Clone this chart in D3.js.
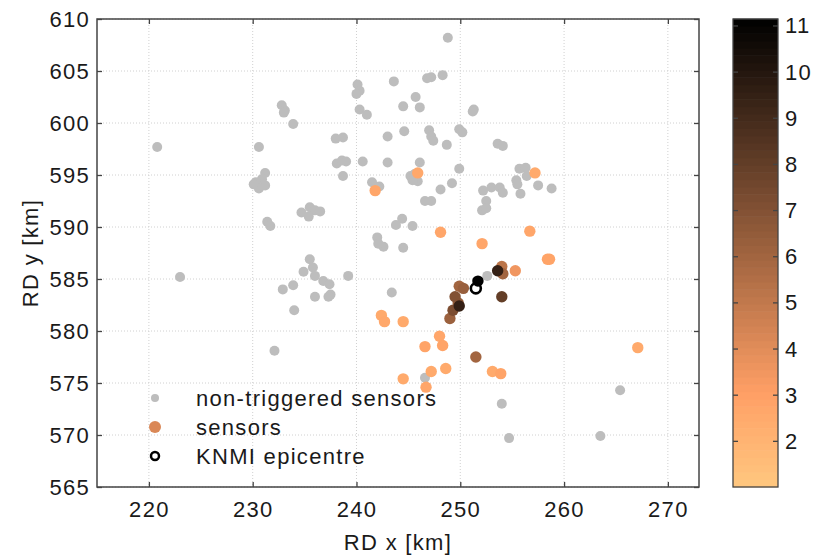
<!DOCTYPE html>
<html>
<head>
<meta charset="utf-8">
<script src="https://cdn.jsdelivr.net/npm/d3@7"></script>
<style>
  body { margin: 0; background: #fff; }
  text { font-family: "Liberation Sans", Arial, sans-serif; fill: #1a1a1a; }
</style>
</head>
<body>
<svg width="817" height="559" id="mainsvg"></svg>
<script>
// grey dots: sensors that did not trigger [RD x, RD y] in km
const greyX = [248.8,243.6,246.8,247.2,248.3,240.1,240.3,240.0,240.3,241.0,244.5,245.7,246.1,251.3,251.2,
  243.0,244.6,247.0,247.2,247.4,248.7,249.9,250.2,253.6,254.1,238.0,238.7,238.1,238.6,239.0,
  238.7,240.6,243.0,246.1,249.9,245.2,245.6,245.9,245.4,241.5,242.2,248.1,249.2,246.6,247.2,
  252.2,253.0,252.5,252.1,252.5,255.7,256.3,256.4,255.4,255.5,253.8,254.1,255.8,257.5,258.8,
  243.8,244.4,245.4,242.0,242.6,242.1,244.5,234.7,235.5,236.0,236.5,235.4,220.8,232.8,233.1,
  233.0,233.9,230.6,231.2,230.9,230.3,231.2,230.6,230.1,231.4,231.7,223.0,232.9,233.9,234.0,
  232.1,235.5,235.8,234.9,236.0,236.8,237.4,237.5,237.3,236.0,239.2,243.4,246.6,252.6,254.0,
  254.7,263.5,265.4];
const greyY = [608.2,604.0,604.3,604.4,604.6,603.7,603.1,602.8,601.3,600.8,601.6,602.5,601.5,601.3,601.1,
  598.7,599.2,599.3,598.7,598.3,597.9,599.4,599.1,598.0,597.8,598.5,598.6,596.1,596.4,596.3,
  594.9,596.3,596.2,596.2,595.6,594.9,595.1,594.4,594.5,594.3,593.9,593.6,594.2,592.5,592.5,
  593.5,593.8,592.5,591.6,591.8,595.6,595.7,594.9,594.5,594.1,593.8,593.3,593.2,594.0,593.7,
  590.2,590.8,590.1,589.0,588.1,588.4,588.0,591.4,591.9,591.6,591.5,591.0,597.7,601.7,601.2,
  601.0,599.9,597.7,595.2,594.6,594.3,594.0,593.7,594.1,590.5,590.1,585.2,584.0,584.4,582.0,
  578.1,586.9,586.1,585.7,585.3,584.8,584.5,583.5,583.3,583.3,585.3,583.7,575.5,585.3,573.0,
  569.7,569.9,574.3];

// triggered sensors, coloured by value
const sensX = [245.9,241.8,248.1,252.1,256.7,257.2,258.4,258.6,255.3,242.4,242.7,244.5,246.6,248.0,248.3,
  247.2,248.6,244.5,246.7,253.1,253.9,267.1,251.5,254.0,254.0,254.1,253.6,249.9,250.3,249.5,
  249.8,249.3,249.0,249.9,251.7];
const sensY = [595.2,593.5,589.5,588.4,589.6,595.2,586.9,586.9,585.8,581.5,580.9,580.9,578.5,579.5,578.6,
  576.1,576.4,575.4,574.6,576.1,575.9,578.4,577.5,583.3,586.2,585.5,585.8,584.3,584.1,583.3,
  582.7,582.0,581.2,582.4,584.8];
const sensVal = [2.6,2.7,2.7,2.7,2.7,2.5,2.8,2.8,3.5,2.5,2.6,2.5,2.8,2.7,2.8,
  2.5,2.5,2.5,2.7,2.5,2.8,2.5,6.0,8.0,5.2,6.0,9.5,6.0,6.3,7.0,
  6.5,7.2,6.2,9.5,11.1];

const epiX = [251.5];
const epiY = [584.1];

const xTicks = [220,230,240,250,260,270];
const yTicks = [565,570,575,580,585,590,595,600,605,610];
const cTicks = [2,3,4,5,6,7,8,9,10,11];
const cRange = [1, 11.14];

const svg = d3.select('#mainsvg');
const margin = {top: 19, left: 97};
const innerWidth = 602, innerHeight = 468;
const axisColor = '#444';
const fs = '22px', ls = '1.3px';

const xScale = d3.scaleLinear().domain([215, 273]).range([0, innerWidth]);
const yScale = d3.scaleLinear().domain([565, 610]).range([innerHeight, 0]);

// matlab copper, flipped so low values are light
function copper(t) {
  return d3.rgb(255 * Math.min(1, 1.25 * t), 255 * 0.7812 * t, 255 * 0.4975 * t).formatHex();
}
const tScale = d3.scaleLinear().domain(cRange).range([1, 0]);
const colorOf = v => copper(tScale(v));

const g = svg.append('g').attr('transform', `translate(${margin.left},${margin.top})`);

// grid
g.append('g').selectAll('line').data(xTicks).join('line')
  .attr('x1', d => xScale(d)).attr('x2', d => xScale(d))
  .attr('y1', 0).attr('y2', innerHeight)
  .attr('stroke', '#d0d0d0').attr('stroke-dasharray', '1,2');
g.append('g').selectAll('line').data(yTicks).join('line')
  .attr('y1', d => yScale(d)).attr('y2', d => yScale(d))
  .attr('x1', 0).attr('x2', innerWidth)
  .attr('stroke', '#d0d0d0').attr('stroke-dasharray', '1,2');

// axes, ticks pointing inward
function styleAxis(sel) {
  sel.select('.domain').remove();
  sel.selectAll('line').attr('stroke', axisColor).attr('stroke-width', 1.3);
  sel.selectAll('text').style('font-size', fs).style('letter-spacing', ls).attr('fill', '#1a1a1a');
  sel.attr('font-family', null);
}
// tick marks only, no labels
function ticksOnly(sel) {
  styleAxis(sel);
  sel.selectAll('text').remove();
}
g.append('g').attr('transform', `translate(0,${innerHeight})`)
  .call(d3.axisBottom(xScale).tickValues(xTicks).tickSizeInner(-5).tickSizeOuter(0))
  .call(styleAxis)
  .call(s => s.selectAll('text').attr('dy', null).attr('y', 30));
g.append('g')
  .call(d3.axisTop(xScale).tickValues(xTicks).tickSizeInner(-5).tickSizeOuter(0))
  .call(ticksOnly);
g.append('g')
  .call(d3.axisLeft(yScale).tickValues(yTicks).tickSizeInner(-5).tickSizeOuter(0).tickPadding(7))
  .call(styleAxis)
  .call(s => s.selectAll('text').attr('dy', null).attr('y', 7.5));
g.append('g').attr('transform', `translate(${innerWidth},0)`)
  .call(d3.axisRight(yScale).tickValues(yTicks).tickSizeInner(-5).tickSizeOuter(0))
  .call(ticksOnly);

// grey sensors
g.append('g').selectAll('circle').data(greyX.map((x, i) => [x, greyY[i]])).join('circle')
  .attr('cx', d => xScale(d[0])).attr('cy', d => yScale(d[1]))
  .attr('r', 5).attr('fill', '#bdbdbd');

// coloured sensors, darker drawn last
const sens = sensX.map((x, i) => ({x: x, y: sensY[i], v: sensVal[i]})).sort((a, b) => a.v - b.v);
g.append('g').selectAll('circle').data(sens).join('circle')
  .attr('cx', d => xScale(d.x)).attr('cy', d => yScale(d.y))
  .attr('r', 5.7).attr('fill', d => colorOf(d.v));

// epicentre
g.append('g').selectAll('circle').data(epiX.map((x, i) => [x, epiY[i]])).join('circle')
  .attr('cx', d => xScale(d[0])).attr('cy', d => yScale(d[1]))
  .attr('r', 5).attr('fill', 'none').attr('stroke', '#000').attr('stroke-width', 2.6);

// box
g.append('rect').attr('width', innerWidth).attr('height', innerHeight)
  .attr('fill', 'none').attr('stroke', axisColor).attr('stroke-width', 1.5);

// legend
const legItems = [
  {label: 'non-triggered sensors', r: 4, fill: '#bdbdbd', stroke: 'none'},
  {label: 'sensors', r: 6, fill: colorOf(4.2), stroke: 'none'},
  {label: 'KNMI epicentre', r: 4, fill: 'none', stroke: '#000'}
];
const legend = svg.append('g').selectAll('g').data(legItems).join('g')
  .attr('transform', (d, i) => `translate(155,${398 + i * 29})`);
legend.append('circle').attr('r', d => d.r).attr('fill', d => d.fill)
  .attr('stroke', d => d.stroke).attr('stroke-width', 2.5);
legend.append('text').attr('x', 41).attr('y', 8)
  .style('font-size', fs).style('letter-spacing', ls).text(d => d.label);

// axis titles
svg.append('text').attr('x', margin.left + innerWidth / 2).attr('y', 550)
  .attr('text-anchor', 'middle').style('font-size', fs).style('letter-spacing', ls).text('RD x [km]');
svg.append('text').attr('transform', `translate(38,${margin.top + innerHeight / 2}) rotate(-90)`)
  .attr('text-anchor', 'middle').style('font-size', fs).style('letter-spacing', ls).text('RD y [km]');

// colorbar
const cbX = 733, cbW = 45;
const cScale = d3.scaleLinear().domain(cRange).range([margin.top + innerHeight, margin.top]);
const nBands = 64;
const bands = d3.range(nBands).map(i => cRange[0] + (cRange[1] - cRange[0]) * i / nBands);
const bandStep = (cRange[1] - cRange[0]) / nBands;
const cb = svg.append('g');
cb.selectAll('rect').data(bands).join('rect')
  .attr('x', cbX).attr('width', cbW)
  .attr('y', d => cScale(d + bandStep) - 0.3)
  .attr('height', d => cScale(d) - cScale(d + bandStep) + 0.6)
  .attr('fill', d => colorOf(d + bandStep / 2));
cb.append('rect').attr('x', cbX).attr('y', margin.top).attr('width', cbW).attr('height', innerHeight)
  .attr('fill', 'none').attr('stroke', axisColor).attr('stroke-width', 1.3);
cb.append('g').attr('transform', `translate(${cbX + cbW},0)`)
  .call(d3.axisRight(cScale).tickValues(cTicks).tickSizeInner(-5).tickSizeOuter(0).tickPadding(7))
  .call(styleAxis)
  .call(s => s.selectAll('text').attr('dy', null).attr('y', 7.5));
cb.append('g').attr('transform', `translate(${cbX},0)`)
  .call(d3.axisLeft(cScale).tickValues(cTicks).tickSizeInner(-5).tickSizeOuter(0))
  .call(ticksOnly);
</script>
</body>
</html>
